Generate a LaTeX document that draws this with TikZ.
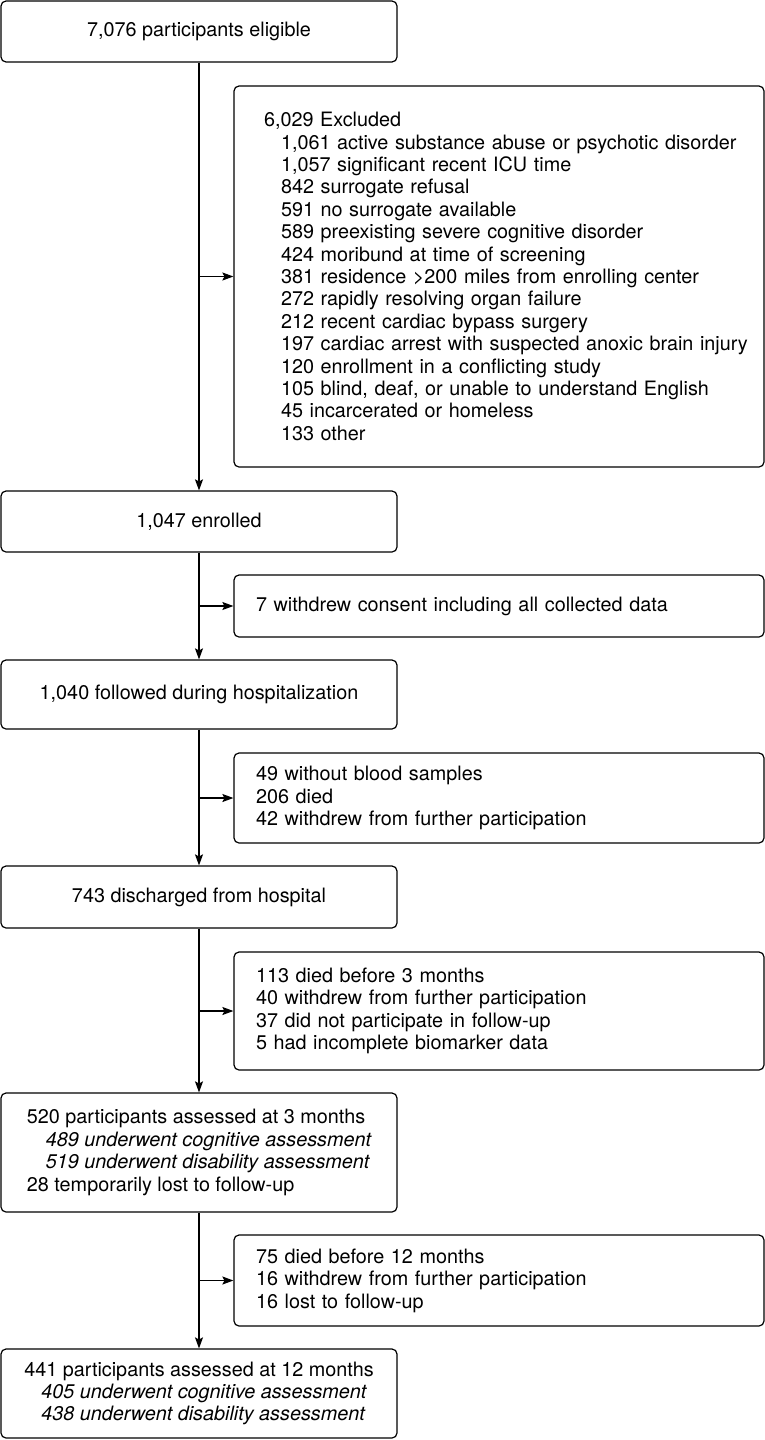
\documentclass[tikz,border=0pt]{standalone}
\usepackage{fontspec}
\setmainfont{TeX Gyre Heros}
\usetikzlibrary{arrows.meta}
\begin{document}
\begin{tikzpicture}[x=1pt,y=-1pt,
  every node/.style={font=\fontsize{19.8}{22.4}\selectfont},
  mainbox/.style={draw, line width=1.2pt, rounded corners=5pt, inner sep=0pt,
    minimum width=396pt, align=left},
  sidebox/.style={draw, line width=1.2pt, rounded corners=5pt, inner xsep=22pt, inner ysep=0pt,
    text width=486pt, align=left},
  exclbox/.style={draw, line width=1.2pt, rounded corners=5pt, inner xsep=5pt, inner ysep=0pt,
    text width=520pt, align=left},
  arr/.style={line width=1.2pt, -{Stealth[length=11pt,width=8pt,inset=2pt]}}]
\useasboundingbox (0,0) rectangle (765,1440);

\node[mainbox, minimum height=61pt] (b1) at (199,31.5) {7,076 participants eligible};

\node[exclbox, minimum height=381pt] (excl) at (499,276.5) {%
\hspace*{25pt}6,029 Excluded\\
\hspace*{42pt}1,061 active substance abuse or psychotic disorder\\
\hspace*{42pt}1,057 significant recent ICU time\\
\hspace*{42pt}842 surrogate refusal\\
\hspace*{42pt}591 no surrogate available\\
\hspace*{42pt}589 preexisting severe cognitive disorder\\
\hspace*{42pt}424 moribund at time of screening\\
\hspace*{42pt}381 residence >200 miles from enrolling center\\
\hspace*{42pt}272 rapidly resolving organ failure\\
\hspace*{42pt}212 recent cardiac bypass surgery\\
\hspace*{42pt}197 cardiac arrest with suspected anoxic brain injury\\
\hspace*{42pt}120 enrollment in a conflicting study\\
\hspace*{42pt}105 blind, deaf, or unable to understand English\\
\hspace*{42pt}45 incarcerated or homeless\\
\hspace*{42pt}133 other};

\node[mainbox, minimum height=61pt] (b2) at (199,521.5) {1,047 enrolled};

\node[sidebox, minimum height=62pt] (wd) at (499,606) {7 withdrew consent including all collected data};

\node[mainbox, minimum height=69pt] (b3) at (199,694.5) {1,040 followed during hospitalization};

\node[sidebox, minimum height=90pt] (blood) at (499,798) {49 without blood samples\\
206 died\\
42 withdrew from further participation};

\node[mainbox, minimum height=62pt] (b4) at (199,897) {743 discharged from hospital};

\node[sidebox, minimum height=118pt] (d3) at (499,1011) {113 died before 3 months\\
40 withdrew from further participation\\
37 did not participate in follow-up\\
5 had incomplete biomarker data};

\node[mainbox, minimum height=119pt] (b5) at (199,1152.5) {520 participants assessed at 3 months\\
\hspace*{19pt}\itshape 489 underwent cognitive assessment\\
\hspace*{19pt}\itshape 519 underwent disability assessment\\
28 temporarily lost to follow-up};

\node[sidebox, minimum height=91pt] (d12) at (499,1280.5) {75 died before 12 months\\
16 withdrew from further participation\\
16 lost to follow-up};

\node[mainbox, minimum height=89pt] (b6) at (199,1393.5) {441 participants assessed at 12 months\\
\hspace*{17pt}\itshape 405 underwent cognitive assessment\\
\hspace*{17pt}\itshape 438 underwent disability assessment};

\draw[arr] (b1) -- (b2);
\draw[arr] (b2) -- (b3);
\draw[arr] (b3) -- (b4);
\draw[arr] (b4) -- (b5);
\draw[arr] (b5) -- (b6);

\draw[arr] (b1.south |- excl.west) -- (excl.west);
\draw[arr] (b2.south |- wd.west) -- (wd.west);
\draw[arr] (b3.south |- blood.west) -- (blood.west);
\draw[arr] (b4.south |- d3.west) -- (d3.west);
\draw[arr] (b5.south |- d12.west) -- (d12.west);
\end{tikzpicture}
\end{document}
